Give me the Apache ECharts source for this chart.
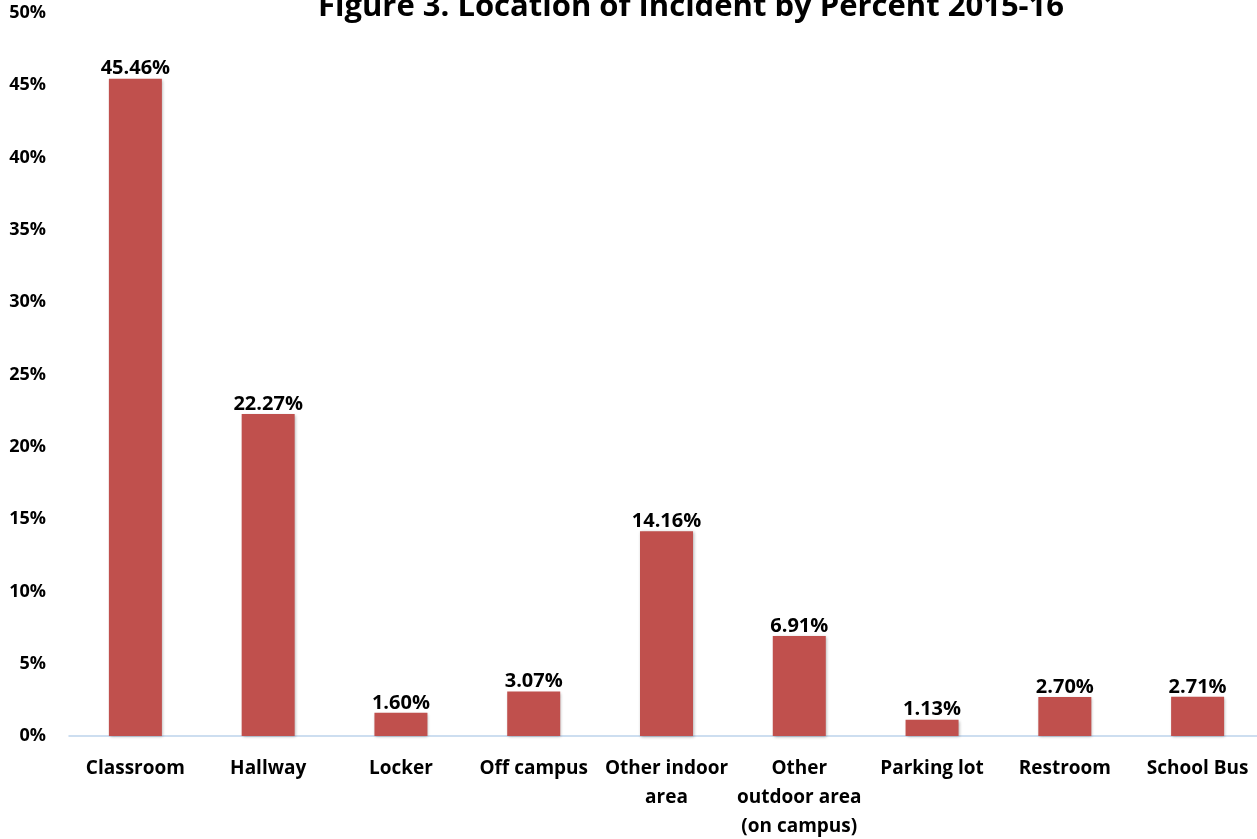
<!DOCTYPE html>
<html>
<head>
<meta charset="utf-8">
<script src="https://cdn.jsdelivr.net/npm/echarts@6/dist/echarts.min.js"></script>
<style>
  html,body{margin:0;padding:0;background:#fff;}
  #chart{width:1257px;height:839px;}
</style>
</head>
<body>
<div id="chart"></div>
<script>
// 地点分类与百分比
const locations = ["Classroom", "Hallway", "Locker", "Off campus", "Other indoor\narea", "Other\noutdoor area\n(on campus)", "Parking lot", "Restroom", "School Bus"];
const percents = [45.46, 22.27, 1.60, 3.07, 14.16, 6.91, 1.13, 2.70, 2.71];
const yTicks = [0, 5, 10, 15, 20, 25, 30, 35, 40, 45, 50];

const font = "'Open Sans', 'Liberation Sans', sans-serif";
const chart = echarts.init(document.getElementById("chart"));
chart.setOption({
    animation: false,
    title: {
        text: "Figure 3. Location of Incident by Percent 2015-16",
        left: 686,
        textAlign: "center",
        top: -13,
        textStyle: {fontFamily: font, fontSize: 31, fontWeight: "bold", color: "#000"}
    },
    grid: {left: 69, width: 1195, top: 13, bottom: 103, outerBoundsMode: "none"},
    xAxis: {
        type: "category",
        data: locations,
        axisLine: {lineStyle: {color: "#BDD3EC", width: 1.5}},
        axisTick: {show: false},
        axisLabel: {
            interval: 0,
            margin: 18,
            lineHeight: 29,
            fontFamily: font,
            fontSize: 19,
            fontWeight: "bold",
            color: "#000"
        }
    },
    yAxis: {
        type: "value",
        min: yTicks[0],
        max: yTicks[yTicks.length - 1],
        interval: 5,
        splitLine: {show: false},
        axisLine: {show: false},
        axisLabel: {
            margin: 23,
            formatter: "{value}%",
            fontFamily: font,
            fontSize: 18,
            fontWeight: "bold",
            color: "#000"
        }
    },
    series: [{
        type: "bar",
        data: percents,
        barWidth: 53,
        itemStyle: {
            color: "#C0504D",
            shadowColor: "rgba(0,0,0,0.3)",
            shadowBlur: 3,
            shadowOffsetX: 1,
            shadowOffsetY: 1
        },
        label: {
            show: true,
            position: "top",
            distance: 0,
            formatter: p => p.value.toFixed(2) + "%",
            fontFamily: font,
            fontSize: 20,
            fontWeight: "bold",
            color: "#000"
        }
    }]
});
</script>
</body>
</html>
